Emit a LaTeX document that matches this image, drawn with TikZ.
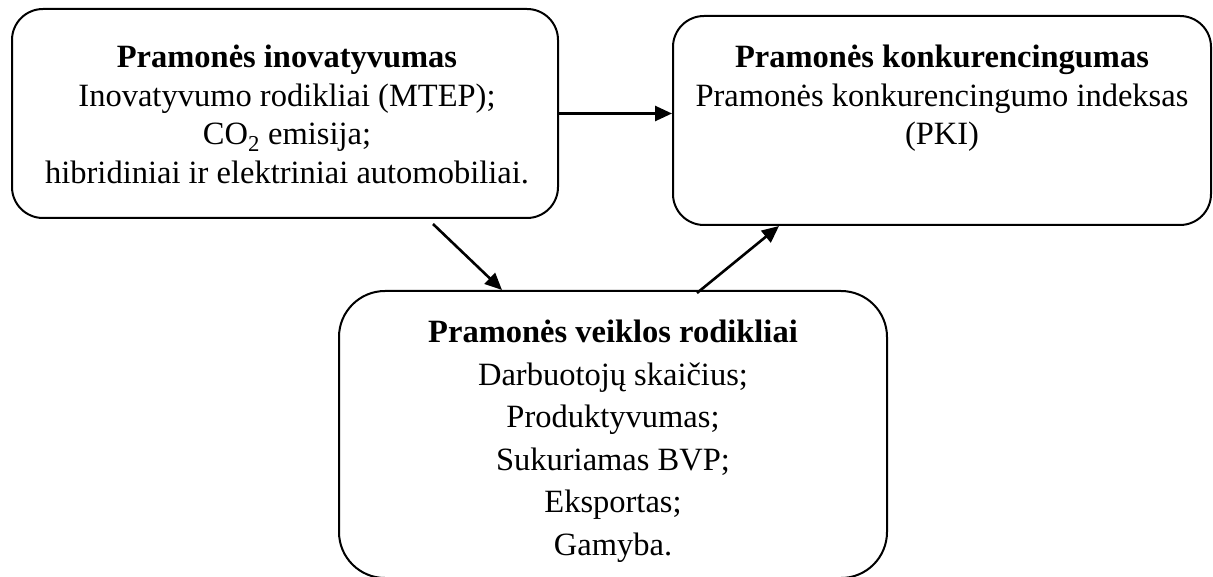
\documentclass[tikz,border=0pt]{standalone}
\usepackage{fontspec}
\setmainfont{Liberation Serif}
\usetikzlibrary{arrows.meta,calc}
\begin{document}
\begin{tikzpicture}[x=1pt,y=1pt,
  box/.style={draw=black, line width=2pt, rounded corners=#1, inner sep=0pt},
  txt/.style={anchor=north, align=center, inner sep=0pt, font=\fontsize{32.5}{38.5}\selectfont},
  arr/.style={draw=black, line width=2.6pt, -{Triangle[length=17pt,width=15pt]}}]
\useasboundingbox (0,0) rectangle (1213,-577);
% boxes
\node[box=31pt, minimum width=546pt, minimum height=209pt] (b1) at (285,-113.5) {};
\node[box=31pt, minimum width=538pt, minimum height=209pt] (b2) at (942,-120.5) {};
\node[box=46pt, minimum width=548pt, minimum height=287pt] (b3) at (613,-434.5) {};
% texts
\node[txt] (t1) at (287,-45) {\textbf{Pramonės inovatyvumas}\\Inovatyvumo rodikliai (MTEP);\\CO\textsubscript{2} emisija;\\hibridiniai ir elektriniai automobiliai.};
\node[txt] (t2) at (942,-45) {\textbf{Pramonės konkurencingumas}\\Pramonės konkurencingumo indeksas\\(PKI)};
\node[txt, font=\fontsize{32.5}{42.5}\selectfont] (t3) at (613,-320) {\textbf{Pramonės veiklos rodikliai}\\Darbuotojų skaičius;\\Produktyvumas;\\Sukuriamas BVP;\\Eksportas;\\Gamyba.};
% arrows
\draw[arr] (b1.east) -- (b1.east -| b2.west);
\draw[arr] ([xshift=148pt,yshift=-5pt]b1.south) -- ([xshift=-111pt]b3.north);
\draw[arr] ([xshift=84pt,yshift=-3pt]b3.north) -- ([xshift=-163pt]b2.south);
\end{tikzpicture}
\end{document}
